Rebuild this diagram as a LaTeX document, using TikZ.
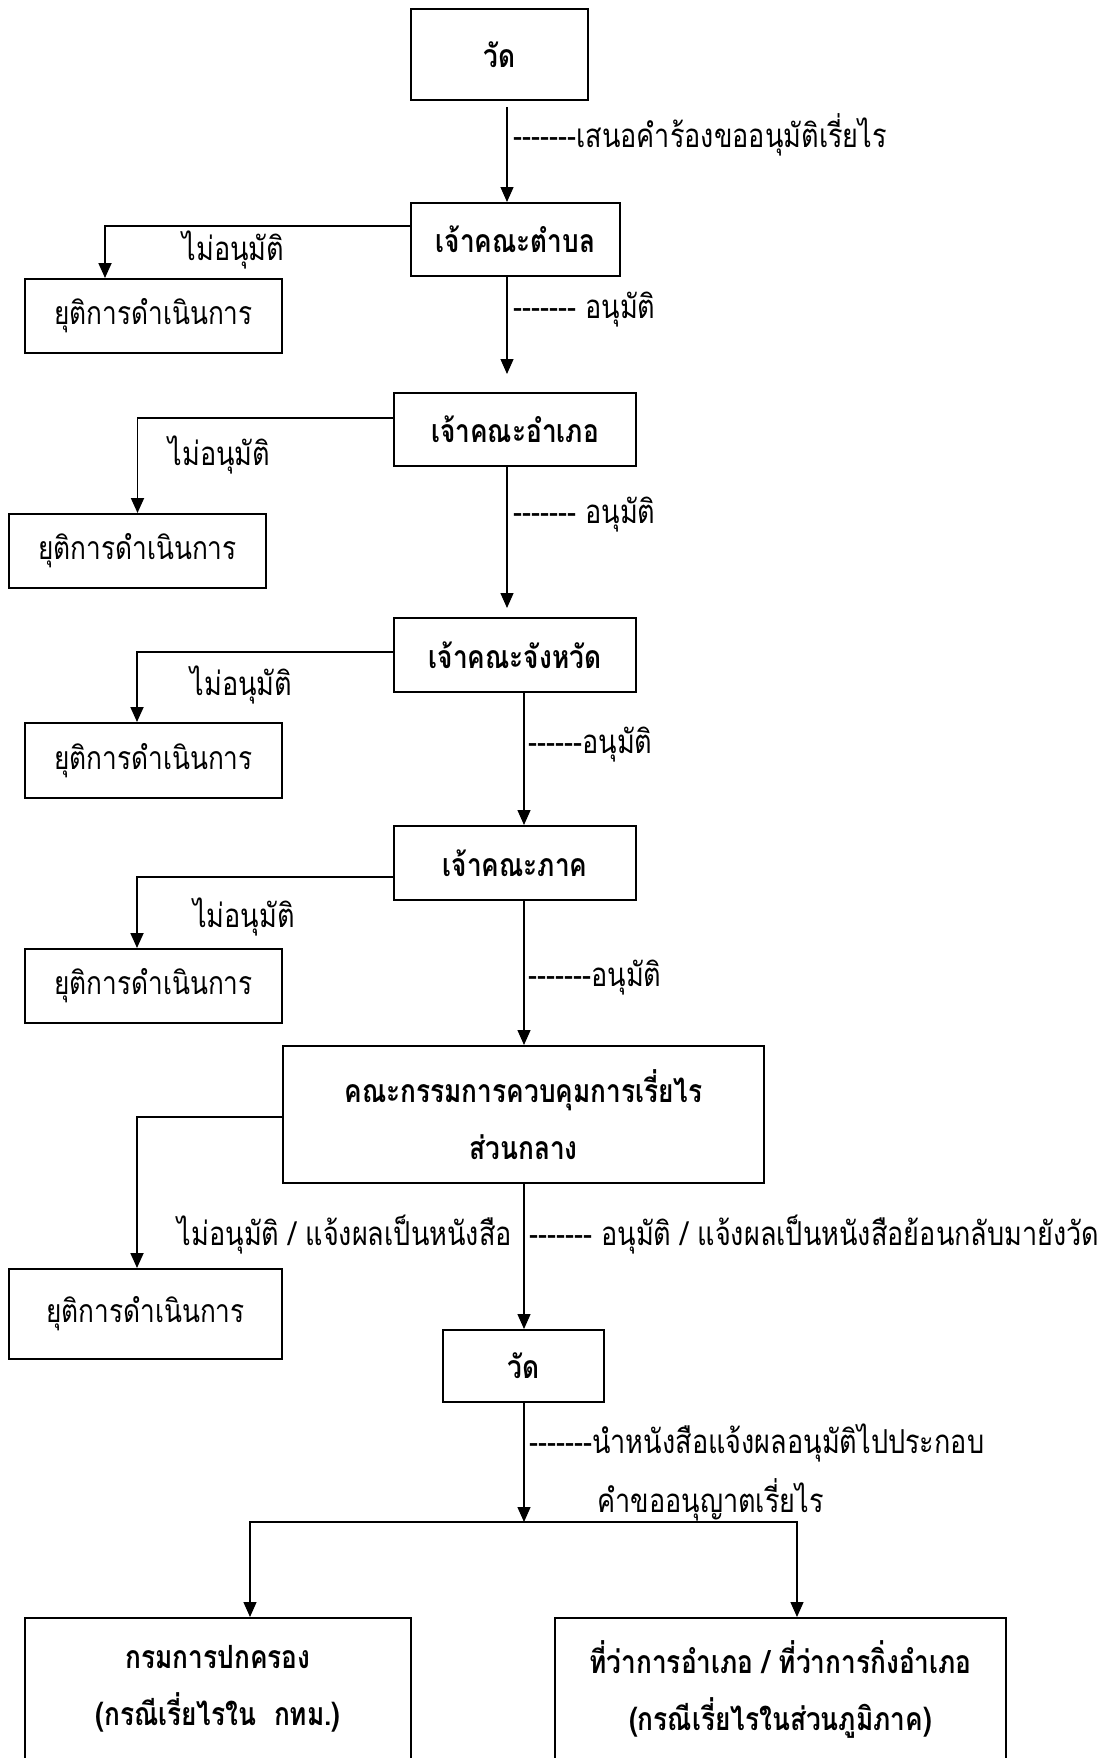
\documentclass[tikz,border=0pt]{standalone}
\usepackage{fontspec}
\usepackage{tikz}
\usetikzlibrary{arrows.meta}
\newfontfamily\thaifont[Script=Thai, FakeStretch=0.82]{Loma}

\begin{document}
\begin{tikzpicture}[x=1pt, y=-1pt,
    box/.style={draw, line width=2pt, align=center, inner sep=0pt,
        font=\thaifont\bfseries\fontsize{32}{57}\selectfont},
    stopbox/.style={box, font=\thaifont\fontsize{32}{36}\selectfont},
    lbl/.style={inner sep=0pt, font=\thaifont\fontsize{33}{36}\selectfont},
    arr/.style={line width=1.3pt, -{Triangle[length=15pt,width=13pt]}},
    branch/.style={line width=1.8pt, -{Triangle[length=15pt,width=13pt]}}]

    % Page frame
    \path[use as bounding box, clip] (0,0) rectangle (1109,1758);

    % The two vertical spines
    \coordinate (upper) at (507,0);
    \coordinate (lower) at (524,0);

    % Main chain of boxes
    \node[box, minimum width=177pt, minimum height=91pt] (vat) at (499.5,54.5) {วัด};
    \node[box, minimum width=209pt, minimum height=73pt] (tambon) at (515.5,239.5) {เจ้าคณะตำบล};
    \node[box, minimum width=242pt, minimum height=73pt] (amphoe) at (515,429.5) {เจ้าคณะอำเภอ};
    \node[box, minimum width=242pt, minimum height=74pt] (changwat) at (515,655) {เจ้าคณะจังหวัด};
    \node[box, minimum width=242pt, minimum height=74pt] (phak) at (515,863) {เจ้าคณะภาค};
    \node[box, minimum width=481pt, minimum height=137pt] (board) at (523.5,1114.5)
        {คณะกรรมการควบคุมการเรี่ยไร\\ส่วนกลาง};
    \node[box, minimum width=161pt, minimum height=72pt] (vatback) at (523.5,1366) {วัด};
    \node[box, minimum width=386pt, minimum height=142pt] (dopa) at (218,1689)
        {กรมการปกครอง\\(กรณีเรี่ยไรใน~~กทม.)};
    \node[box, minimum width=451pt, minimum height=142pt] (office) at (780.5,1689)
        {ที่ว่าการอำเภอ / ที่ว่าการกิ่งอำเภอ\\(กรณีเรี่ยไรในส่วนภูมิภาค)};

    % Stop boxes on the left
    \node[stopbox, minimum width=257pt, minimum height=74pt] (stopa) at (153.5,316) {ยุติการดำเนินการ};
    \node[stopbox, minimum width=257pt, minimum height=74pt] (stopb) at (137.5,551) {ยุติการดำเนินการ};
    \node[stopbox, minimum width=257pt, minimum height=75pt] (stopc) at (153.5,760.5) {ยุติการดำเนินการ};
    \node[stopbox, minimum width=257pt, minimum height=74pt] (stopd) at (153.5,986) {ยุติการดำเนินการ};
    \node[stopbox, minimum width=273pt, minimum height=90pt] (stope) at (145.5,1314) {ยุติการดำเนินการ};

    % Labels beside the spine
    \node[lbl, anchor=west] (ask) at (513,135) {-------เสนอคำร้องขออนุมัติเรี่ยไร};
    \node[lbl, anchor=west] (oka) at (513,310) {------- อนุมัติ};
    \node[lbl, anchor=west] (okb) at (513,515) {------- อนุมัติ};
    \node[lbl, anchor=west] (okc) at (528,745) {------อนุมัติ};
    \node[lbl, anchor=west] (okd) at (528,978) {-------อนุมัติ};
    \node[lbl, anchor=west] (oke) at (529,1235) {------- อนุมัติ / แจ้งผลเป็นหนังสือย้อนกลับมายังวัด};
    \node[lbl, anchor=west] (take) at (529,1443) {-------นำหนังสือแจ้งผลอนุมัติไปประกอบ};
    \node[lbl, anchor=west] (form) at (597,1500) {คำขออนุญาตเรี่ยไร};

    % Labels on the left branches
    \node[lbl] (noa) at (233.5,250) {ไม่อนุมัติ};
    \node[lbl] (nob) at (219.5,455) {ไม่อนุมัติ};
    \node[lbl] (noc) at (241.5,685) {ไม่อนุมัติ};
    \node[lbl] (nod) at (244,917) {ไม่อนุมัติ};
    \node[lbl, anchor=east] (noe) at (512,1235) {ไม่อนุมัติ / แจ้งผลเป็นหนังสือ};

    % Spine arrows
    \draw[arr, shorten <=6pt] (vat.south -| upper) -- (tambon.north -| upper);
    \draw[arr, shorten >=18pt] (tambon.south -| upper) -- (amphoe.north -| upper);
    \draw[arr, shorten >=9pt] (amphoe.south -| upper) -- (changwat.north -| upper);
    \draw[arr] (changwat.south -| lower) -- (phak.north -| lower);
    \draw[arr] (phak.south -| lower) -- (board.north -| lower);
    \draw[arr] (board.south -| lower) -- (vatback.north -| lower);

    % Rejections to the left
    \draw[branch] ([yshift=13.5pt]tambon.west) -| ([xshift=-48.5pt]stopa.north);
    \draw[branch] ([yshift=11.5pt]amphoe.west) -| (stopb.north);
    \draw[branch] ([yshift=3pt]changwat.west) -| ([xshift=-16.5pt]stopc.north);
    \draw[branch] ([yshift=-14pt]phak.west) -| ([xshift=-16.5pt]stopd.north);
    \draw[branch] ([yshift=-2.5pt]board.west) -| ([xshift=-8.5pt]stope.north);

    % Split to the two offices
    \coordinate (split) at (524,1522);
    \draw[arr] (vatback.south -| lower) -- (split);
    \draw[arr] (split) -| ([xshift=32pt]dopa.north);
    \draw[arr] (split) -| ([xshift=16.5pt]office.north);

\end{tikzpicture}
\end{document}
